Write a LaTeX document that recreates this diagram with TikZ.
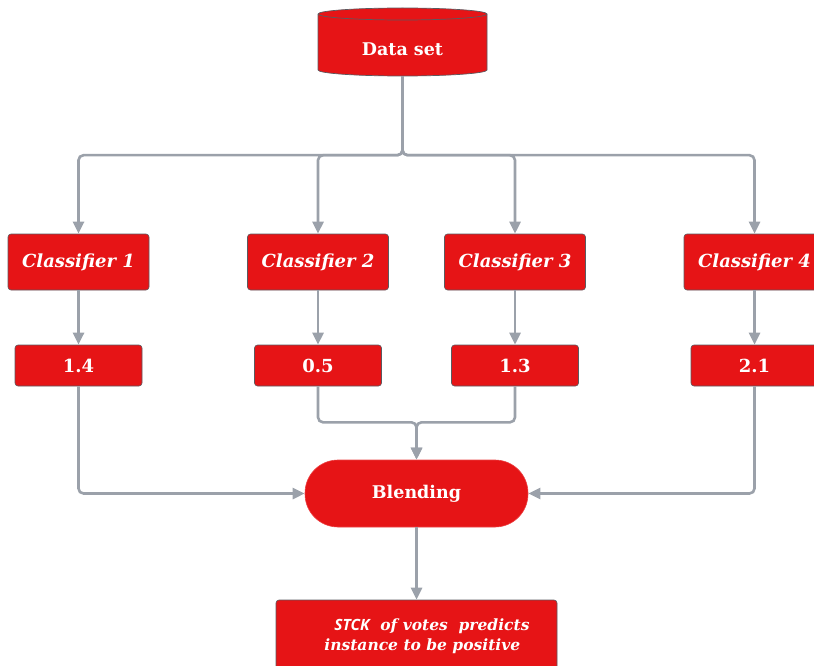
\documentclass[tikz,border=0pt]{standalone}
\usepackage{fontspec}
\setmainfont{DejaVu Serif}
\newfontfamily\stckfont{Open Sans}
\usetikzlibrary{arrows.meta}
\definecolor{boxred}{HTML}{E61416}
\definecolor{conngray}{HTML}{9BA1AA}
\definecolor{edgegray}{HTML}{5A5A60}
\tikzset{
  conn/.style={draw=conngray, line width=2.6pt, rounded corners=5pt, -{Triangle[length=12pt,width=11pt]}},
  clsbox/.style={draw=edgegray, line width=0.6pt, fill=boxred, rounded corners=3pt, minimum width=141pt, minimum height=56pt, text=white, font=\fontsize{18}{21}\selectfont\bfseries\itshape},
  valbox/.style={draw=edgegray, line width=0.6pt, fill=boxred, rounded corners=3pt, minimum width=127pt, minimum height=41pt, text=white, font=\fontsize{18}{21}\selectfont\bfseries},
  blendbox/.style={fill=boxred, draw=boxred!80!white, line width=0.6pt, rounded corners=33pt, minimum width=223pt, minimum height=67pt, text=white, font=\fontsize{17.5}{20}\selectfont\bfseries},
  finbox/.style={draw=edgegray, line width=0.6pt, fill=boxred, rounded corners=3pt, minimum width=281pt, minimum height=72pt},
  fintext/.style={text=white, align=left, font=\fontsize{15.5}{20}\selectfont\bfseries\itshape, inner sep=0pt},
  dstext/.style={text=white, font=\fontsize{17.5}{20}\selectfont\bfseries, minimum width=169pt, minimum height=62pt}
}
\begin{document}
\begin{tikzpicture}[x=1pt,y=-1pt]
\useasboundingbox (0,0) rectangle (814,666);
% cylinder
\fill[boxred] (318,14) -- (318,70) arc[start angle=180,end angle=0,x radius=84.5,y radius=6] -- (487,14) arc[start angle=0,end angle=-180,x radius=84.5,y radius=6] -- cycle;
\draw[edgegray, line width=0.7pt] (318,14) -- (318,70) arc[start angle=180,end angle=0,x radius=84.5,y radius=6] -- (487,14) arc[start angle=0,end angle=-180,x radius=84.5,y radius=6];
\draw[edgegray, line width=0.7pt] (318,14) arc[start angle=180,end angle=0,x radius=84.5,y radius=6];
\node[dstext] (ds) at (402.5,45) {};
\node[text=white, font=\fontsize{17.5}{20}\selectfont\bfseries] at (402.5,49) {Data set};
% classifiers
\node[clsbox] (c1) at (78.5,262) {Classifier 1};
\node[clsbox] (c2) at (318,262) {Classifier 2};
\node[clsbox] (c3) at (515,262) {Classifier 3};
\node[clsbox] (c4) at (754.5,262) {Classifier 4};
% values
\node[valbox] (v1) at (78.5,365.5) {1.4};
\node[valbox] (v2) at (318,365.5) {0.5};
\node[valbox] (v3) at (515,365.5) {1.3};
\node[valbox] (v4) at (754.5,365.5) {2.1};
% blending
\node[blendbox] (bl) at (416.5,493.5) {Blending};
% final
\node[finbox] (fin) at (416.5,636) {};
\node[fintext] (ft) at (427,636) {\hspace{10pt}{\stckfont STCK}\ \ of votes\ \ predicts\\instance to be positive};
% connectors
\foreach \c in {c1,c2,c3,c4}
  \draw[conn] (ds.south) -- ++(0,79) -| (\c.north);
\foreach \i in {1,2,3,4}
  \draw[conn] (c\i.south) -- (v\i.north);
\draw[conn] (v2.south) -- ++(0,36) -| (bl.north);
\draw[conn] (v3.south) -- ++(0,36) -| (bl.north);
\draw[conn] (v1.south) |- (bl.west);
\draw[conn] (v4.south) |- (bl.east);
\draw[conn] (bl.south) -- (fin.north);
\end{tikzpicture}
\end{document}
